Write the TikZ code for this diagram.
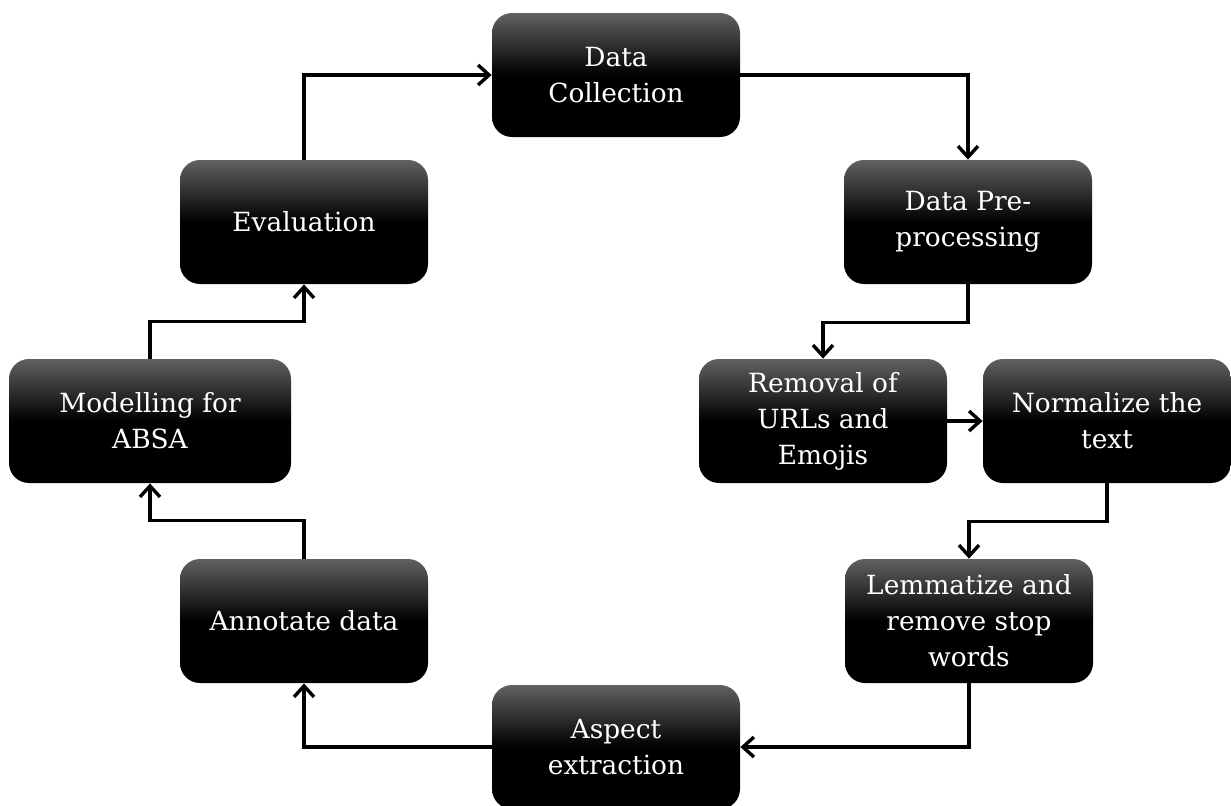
\documentclass[tikz,border=0pt]{standalone}
\usepackage{fontspec}
\setmainfont{DejaVu Serif}
\usetikzlibrary{arrows.meta}

\begin{document}
\begin{tikzpicture}
			[x=0.5pt,y=-0.5pt,every node/.style={rectangle,rounded corners=10pt,top color=black!62,bottom color=black,middle color=black,text=white,align=center,minimum width=124pt,minimum height=62pt,inner sep=1pt,font=\fontsize{13.2}{18}\selectfont}, edge/.style={->,>={Straight Barb[length=5.5pt,width=10pt]},line width=1.7pt}]
			\useasboundingbox (0,0) rectangle (1231,805);
			\node (dc) at (616,75)  {Data\\Collection};
			\node (pp) at (968,222)  {Data Pre-\\processing};
			\node (rm) at (823,421)  {Removal of\\URLs and\\Emojis};
			\node (nt) at (1107,421)  {Normalize the\\text};
			\node (lm) at (969,621)  {Lemmatize and\\remove stop\\words};
			\node (as) at (616,747)  {Aspect\\extraction};
			\node (an) at (304,621)  {Annotate data};
			\node (mo) at (150,421)  [minimum width=141pt] {Modelling for\\ABSA};
			\node (ev) at (304,222)  {Evaluation};
			
			\draw[edge] (ev.north) |- (dc.west);
			\draw[edge] (dc.east) -| (pp.north);
			\draw[edge] (pp.south) -- ++(0,38) -| (rm.north);
			\draw[edge] (rm.east) -- (nt.west);
			\draw[edge] (nt.south) -- ++(0,38) -| (lm.north);
			\draw[edge] (lm.south) |- (as.east);
			\draw[edge] (as.west) -| (an.south);
			\draw[edge] (an.north) -- ++(0,-38) -| (mo.south);
			\draw[edge] (mo.north) -- ++(0,-37) -| (ev.south);
			
			\end{tikzpicture}
\end{document}
